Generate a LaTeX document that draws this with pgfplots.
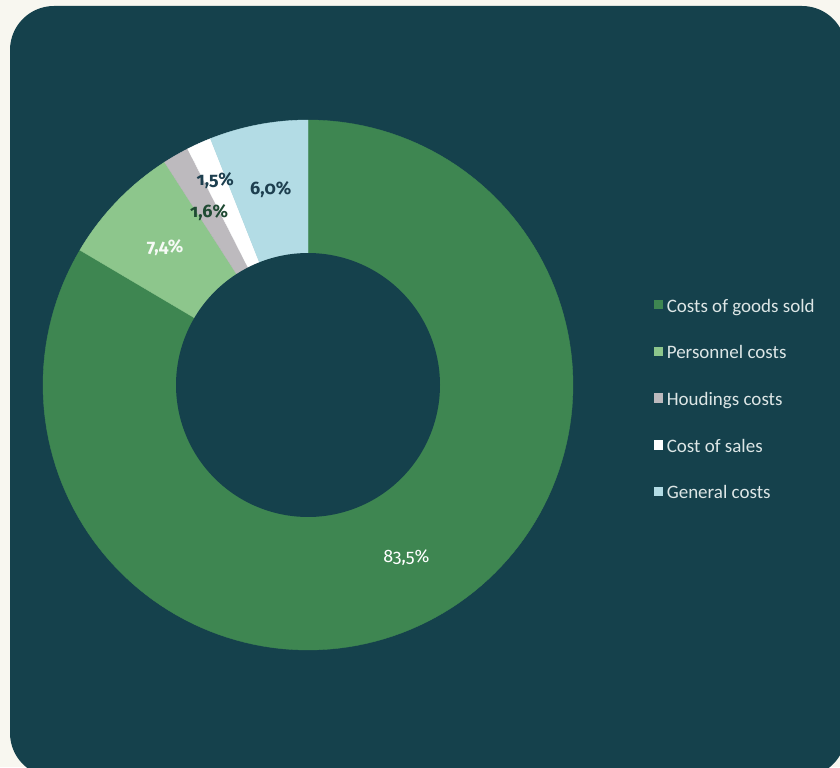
\documentclass[border=0pt]{standalone}
\usepackage{fontspec}
\setmainfont{Carlito}
\newfontfamily\labfont{Fira Sans}[Numbers=OldStyle]
\usepackage{pgfplots}
\pgfplotsset{compat=1.18}
\definecolor{outerbg}{HTML}{F8F7F0}
\definecolor{bgteal}{HTML}{15414C}
\definecolor{cGoods}{HTML}{3E8651}
\definecolor{cPers}{HTML}{8DC68C}
\definecolor{cHoud}{HTML}{BDBABE}
\definecolor{cSales}{HTML}{FFFFFF}
\definecolor{cGen}{HTML}{B3DCE5}
\definecolor{legtext}{HTML}{DDE6E6}
\definecolor{darklab}{HTML}{1D3F4F}
\definecolor{darkgreenlab}{HTML}{1F4A33}
% values (percent)
\newcommand\vGoods{83.5}
\newcommand\vPers{7.4}
\newcommand\vHoud{1.6}
\newcommand\vSales{1.5}
\newcommand\vGen{6.0}
\pgfmathsetmacro\aA{90}
\pgfmathsetmacro\aB{\aA-3.6*\vGoods}
\pgfmathsetmacro\aC{\aB-3.6*\vPers}
\pgfmathsetmacro\aD{\aC-3.6*\vHoud}
\pgfmathsetmacro\aE{\aD-3.6*\vSales}
\pgfmathsetmacro\aF{\aE-3.6*\vGen}
\pgfmathsetmacro\mA{(\aA+\aB)/2}
\pgfmathsetmacro\mB{(\aB+\aC)/2}
\pgfmathsetmacro\mC{(\aC+\aD)/2}
\pgfmathsetmacro\mD{(\aD+\aE)/2}
\pgfmathsetmacro\mE{(\aE+\aF)/2}
\def\cx{308}
\def\cy{382}
\def\ro{265}
\def\ri{132}
\def\rl{198.5}
\begin{document}
\begin{tikzpicture}
\begin{axis}[
  width=420pt, height=383.5pt, scale only axis,
  xmin=0, xmax=840, ymin=0, ymax=767,
  hide axis,
  legend image code/.code={\fill[#1] (0pt,-0.3pt) rectangle (4.2pt,3.9pt);},
  legend style={at={(axis cs:654,467)}, anchor=north west, draw=none, fill=none,
    inner sep=0pt, outer sep=0pt, text=legtext,
    font=\fontsize{9.5}{10}\selectfont,
    nodes={inner sep=0pt, text height=6pt, text depth=2pt},
    row sep=15.35pt, column sep=2pt, cells={anchor=west}},
]
\fill[outerbg] (axis cs:0,0) rectangle (axis cs:840,767);
\fill[bgteal, rounded corners=22pt] (axis cs:10,-10) rectangle (axis cs:846,761);
\addplot[fill=cGoods, draw=cGoods, line width=0.2pt, domain=\aB:\aA, samples=150, variable=\t]
  ({\cx+\ro*cos(t)},{\cy+\ro*sin(t)}) -- (axis cs:\cx,\cy) -- cycle;
\addplot[fill=cPers, draw=cPers, line width=0.2pt, domain=\aC:\aB, samples=30, variable=\t]
  ({\cx+\ro*cos(t)},{\cy+\ro*sin(t)}) -- (axis cs:\cx,\cy) -- cycle;
\addplot[fill=cHoud, draw=cHoud, line width=0.2pt, domain=\aD:\aC, samples=10, variable=\t]
  ({\cx+\ro*cos(t)},{\cy+\ro*sin(t)}) -- (axis cs:\cx,\cy) -- cycle;
\addplot[fill=cSales, draw=cSales, line width=0.2pt, domain=\aE:\aD, samples=10, variable=\t]
  ({\cx+\ro*cos(t)},{\cy+\ro*sin(t)}) -- (axis cs:\cx,\cy) -- cycle;
\addplot[fill=cGen, draw=cGen, line width=0.2pt, domain=\aF:\aE, samples=30, variable=\t]
  ({\cx+\ro*cos(t)},{\cy+\ro*sin(t)}) -- (axis cs:\cx,\cy) -- cycle;
\addplot[forget plot, fill=bgteal, draw=none, domain=0:360, samples=180, variable=\t]
  ({\cx+\ri*cos(t)},{\cy+\ri*sin(t)}) -- cycle;
\legend{Costs of goods sold, Personnel costs, Houdings costs, Cost of sales, General costs}
\node[font=\labfont\fontsize{9}{11}\selectfont, text=white] at (axis cs:{\cx+\rl*cos(\mA)},{\cy+\rl*sin(\mA)}) {83,5\%};
\node[font=\labfont\bfseries\fontsize{9}{11}\selectfont, text=white!92!cPers] at (axis cs:{\cx+\rl*cos(\mB)},{\cy+\rl*sin(\mB)}) {7,4\%};
\node[font=\labfont\bfseries\fontsize{9}{11}\selectfont, text=darkgreenlab] at (axis cs:{\cx+\rl*cos(\mC)},{\cy+\rl*sin(\mC)}) {1,6\%};
\node[font=\labfont\bfseries\fontsize{9}{11}\selectfont, text=darklab] at (axis cs:{\cx+\rl*cos(\mD)-11},{\cy+\rl*sin(\mD)+23}) {1,5\%};
\node[font=\labfont\bfseries\fontsize{9}{11}\selectfont, text=darklab] at (axis cs:{\cx+\rl*cos(\mE)},{\cy+\rl*sin(\mE)}) {6,0\%};
\end{axis}
\end{tikzpicture}
\end{document}
